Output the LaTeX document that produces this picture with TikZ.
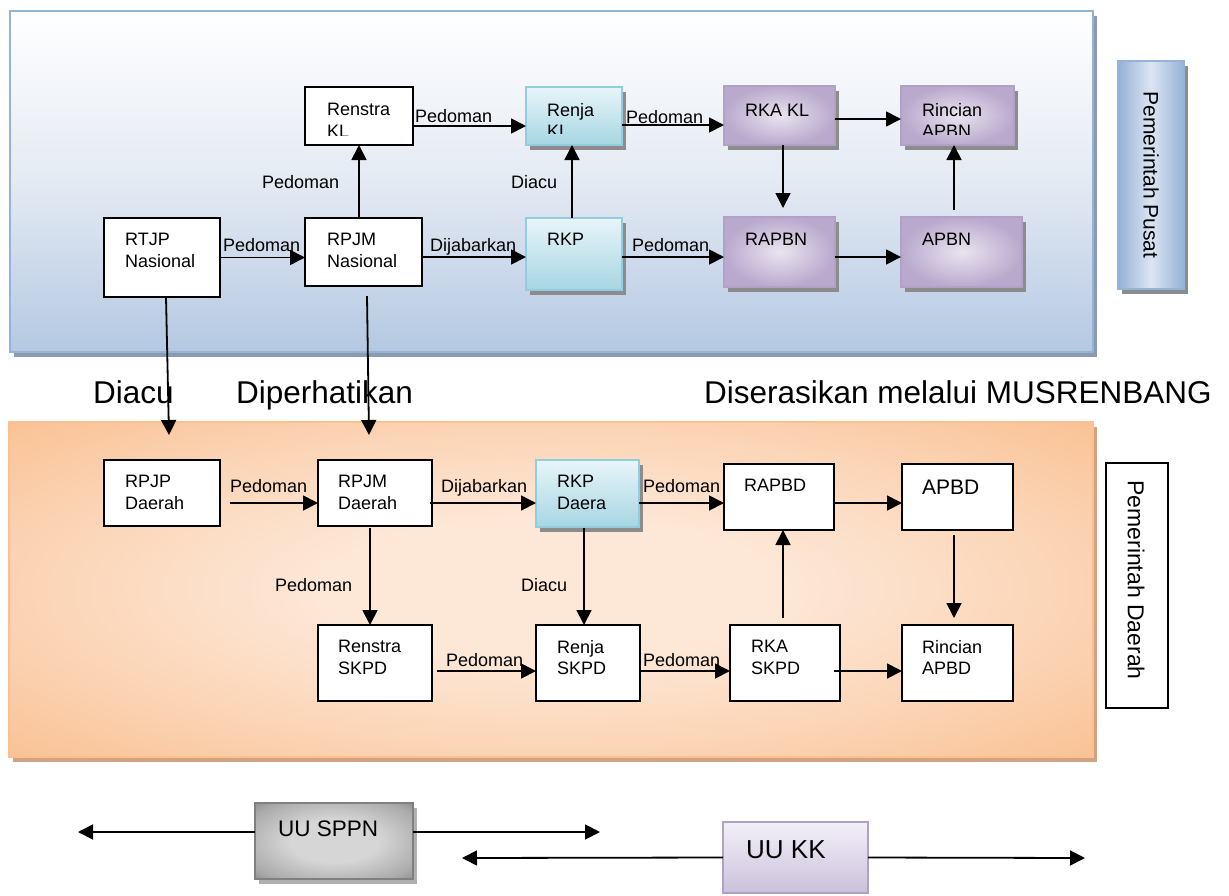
\documentclass[tikz,border=0pt]{standalone}
\usepackage{fontspec}
\setmainfont{Liberation Sans}
\usetikzlibrary{fit,shadows,arrows.meta}
\definecolor{panelblue}{HTML}{B4C8E2}
\definecolor{panelmid}{HTML}{E4EAF3}
\definecolor{paneledge}{HTML}{95B3D7}
\definecolor{panelshadow}{HTML}{8A9AB0}
\definecolor{orangeout}{HTML}{F8BA88}
\definecolor{orangemid}{HTML}{FBD3B3}
\definecolor{orangein}{HTML}{FDE8D8}
\definecolor{orangeedge}{HTML}{FAC090}
\definecolor{orangeshadow}{HTML}{D2A283}
\definecolor{cyantop}{HTML}{E8F5F9}
\definecolor{cyanbot}{HTML}{A6D6E3}
\definecolor{cyanedge}{HTML}{93CDDD}
\definecolor{purin}{HTML}{E9E4F0}
\definecolor{purout}{HTML}{B9A9CC}
\definecolor{puredge}{HTML}{B2A1C7}
\definecolor{grayin}{HTML}{D6D6D6}
\definecolor{graymid}{HTML}{ABABAB}
\definecolor{grayout}{HTML}{676767}
\definecolor{grayedge}{HTML}{808080}
\definecolor{kktop}{HTML}{F3F0F8}
\definecolor{kkbot}{HTML}{CBC0DB}
\definecolor{pusatmid}{HTML}{DCE6F2}
\definecolor{pusatside}{HTML}{94B1D6}
\definecolor{boxshadow}{HTML}{8C8C8C}
\pgfdeclareradialshading{orangeshade}{\pgfpoint{0bp}{0bp}}{color(0bp)=(orangein); color(10bp)=(orangein); color(25bp)=(orangemid); color(40bp)=(orangeout); color(75bp)=(orangeout)}
\pgfdeclareradialshading{grayshade}{\pgfpoint{0bp}{0bp}}{color(0bp)=(grayin); color(14bp)=(grayin); color(30bp)=(graymid); color(45bp)=(grayout); color(75bp)=(grayout)}
\newcommand\myfs[2]{\fontsize{#1pt}{#2pt}\selectfont}
\tikzset{
 bx/.style={inner sep=0pt, outer sep=0pt},
 shd/.style={drop shadow={shadow xshift=4pt, shadow yshift=-5pt, fill=#1, opacity=1}},
 toppanelbox/.style={bx, draw=paneledge, line width=2pt, top color=white, bottom color=panelblue, middle color=panelmid, shd=panelshadow},
 lowpanelbox/.style={bx, draw=orangeedge, line width=2pt, shading=orangeshade, shd=orangeshadow},
 plainbox/.style={bx, draw=black, line width=1.6pt, fill=white},
 cyanbox/.style={bx, draw=cyanedge, line width=1.5pt, top color=cyantop, bottom color=cyanbot, shd=boxshadow},
 purbox/.style={bx, draw=puredge, line width=1.5pt, inner color=purin, outer color=purout, shd=boxshadow},
 pusatbox/.style={bx, draw=paneledge, line width=1.5pt, left color=pusatside, right color=pusatside, middle color=pusatmid, shd=boxshadow},
 sppnbox/.style={bx, draw=grayedge, line width=1.5pt, shading=grayshade, shd=boxshadow!70},
 kkbox/.style={bx, draw=puredge, line width=1.5pt, top color=kktop, bottom color=kkbot},
 txt/.style={inner sep=0pt, anchor=north west, align=left, font=\myfs{18}{21.5}},
 big/.style={inner sep=0pt, anchor=base west, font=\myfs{31.5}{36}},
 rot/.style={inner sep=0pt, rotate=-90},
 arr/.style={line width=1.8pt, -{Triangle[length=15pt,width=15pt]}},
}
\begin{document}
\begin{tikzpicture}[x=1pt,y=-1pt]
\useasboundingbox (0,0) rectangle (1229,895);

% panels
\node[toppanelbox, fit={(10,11)(1093,352)}] (toppanel) {};
\node[lowpanelbox, fit={(9,422)(1093,757)}] (lowpanel) {};

% side boxes
\node[pusatbox, fit={(1118,61)(1184,289)}] (pusat) {};
\node[rot, font=\myfs{21}{24}] (pusat-t) at (pusat.center) {Pemerintah Pusat};
\node[plainbox, line width=1.5pt, fit={(1106,463)(1168,708)}] (daerah) {};
\node[rot, font=\myfs{23}{26}] (daerah-t) at (1136,580) {Pemerintah Daerah};

% top row 1
\node[plainbox, fit={(305,87)(413,145)}] (renstrakl) {};
\node[cyanbox, fit={(526,87)(622,145)}] (renjakl) {};
\node[purbox, fit={(724,86)(835,145)}] (rkakl) {};
\node[purbox, fit={(901,86)(1014,145)}] (rincianapbn) {};
\begin{scope}
 \clip (305,87) rectangle (413,135);
 \node[txt] (renstrakl-t) at (327,103) {Renstra\\KL};
\end{scope}
\begin{scope}
 \clip (526,87) rectangle (622,133);
 \node[txt] (renjakl-t) at (547,103) {Renja\\KL};
\end{scope}
\node[txt] (rkakl-t) at (745,104) {RKA KL};
\begin{scope}
 \clip (901,86) rectangle (1014,134);
 \node[txt] (rincianapbn-t) at (922,103) {Rincian\\APBN};
\end{scope}

% top row 2
\node[plainbox, fit={(104,218)(220,297)}] (rtjp) {};
\node[plainbox, fit={(305,218)(422,286)}] (rpjmnas) {};
\node[cyanbox, fit={(526,218)(622,290)}] (rkp) {};
\node[purbox, fit={(724,217)(835,287)}] (rapbn) {};
\node[purbox, fit={(901,217)(1022,287)}] (apbn) {};
\node[txt] (rtjp-t) at (125,233) {RTJP\\Nasional};
\node[txt] (rpjmnas-t) at (327,233) {RPJM\\Nasional};
\node[txt] (rkp-t) at (547,233) {RKP};
\node[txt] (rapbn-t) at (745,233) {RAPBN};
\node[txt] (apbn-t) at (922,233) {APBN};

% lower row 1
\node[plainbox, fit={(104,460)(220,526)}] (rpjpd) {};
\node[plainbox, fit={(318,460)(432,526)}] (rpjmd) {};
\node[cyanbox, fit={(536,460)(639,527)}] (rkpd) {};
\node[plainbox, fit={(724,464)(834,530)}] (rapbd) {};
\node[plainbox, fit={(902,464)(1013,530)}] (apbd) {};
\node[txt] (rpjpd-t) at (125,475) {RPJP\\Daerah};
\node[txt] (rpjmd-t) at (338,475) {RPJM\\Daerah};
\node[txt] (rkpd-t) at (557,475) {RKP\\Daera};
\node[txt] (rapbd-t) at (744,479) {RAPBD};
\node[txt, font=\myfs{21}{24}] (apbd-t) at (922,480) {APBD};

% lower row 2
\node[plainbox, fit={(318,625)(432,701)}] (renstraskpd) {};
\node[plainbox, fit={(536,625)(640,701)}] (renjaskpd) {};
\node[plainbox, fit={(730,625)(840,701)}] (rkaskpd) {};
\node[plainbox, fit={(902,625)(1013,701)}] (rincianapbd) {};
\node[txt] (renstraskpd-t) at (338,640) {Renstra\\SKPD};
\node[txt] (renjaskpd-t) at (557,640) {Renja\\SKPD};
\node[txt] (rkaskpd-t) at (751,640) {RKA\\SKPD};
\node[txt] (rincianapbd-t) at (922,640) {Rincian\\APBD};

% top arrows
\draw[arr] (rtjp.east) -- ([yshift=-5.5pt]rpjmnas.west);
\draw[arr] ([yshift=-5pt]rpjmnas.east) -- ([yshift=-3pt]rkp.west);
\draw[arr] ([yshift=-3pt]rkp.east) -- ([yshift=-5pt]rapbn.west);
\draw[arr] ([yshift=-5pt]rapbn.east) -- ([yshift=-5pt]apbn.west);
\draw[arr] ([xshift=-4.5pt]rpjmnas.north) -- (renstrakl.south);
\draw[arr] ([yshift=-10pt]renstrakl.east) -- ([yshift=-10pt]renjakl.west);
\draw[arr] ([xshift=-2pt]rkp.north) -- ([xshift=-2pt]renjakl.south);
\draw[arr] ([yshift=-9pt]renjakl.east) -- ([yshift=-9.5pt]rkakl.west);
\draw[arr] ([xshift=3.5pt]rkakl.south) -- ([xshift=3.5pt,yshift=9pt]rapbn.north);
\draw[arr] ([yshift=-3.5pt]rkakl.east) -- ([yshift=-3.5pt]rincianapbn.west);
\draw[arr] ([xshift=-7.5pt,yshift=7pt]apbn.north) -- ([xshift=-3.5pt]rincianapbn.south);

% top labels
\node[txt] (l1) at (223,238) {Pedoman};
\node[txt] (l2) at (430,238) {Dijabarkan};
\node[txt] (l3) at (632,238) {Pedoman};
\node[txt] (l4) at (262,175) {Pedoman};
\node[txt] (l5) at (415,109) {Pedoman};
\node[txt] (l6) at (511,175) {Diacu};
\node[txt] (l7) at (626,110) {Pedoman};

% long arrows between panels
\draw[arr] ([xshift=4pt]rtjp.south) -- ([xshift=7pt,yshift=25pt]rpjpd.north);
\draw[arr] ([xshift=3.5pt,yshift=-10pt]rpjmnas.south) -- ([xshift=-6pt,yshift=25pt]rpjmd.north);

% middle labels
\node[big] (diacu) at (93,403) {Diacu};
\node[big] (diperhatikan) at (236,403) {Diperhatikan};
\node[big] (diserasikan) at (704,403) {Diserasikan melalui MUSRENBANG};

% lower arrows
\draw[arr] ([xshift=10pt,yshift=-10pt]rpjpd.east) -- ([yshift=-10pt]rpjmd.west);
\draw[arr] ([xshift=-2pt,yshift=-10pt]rpjmd.east) -- ([yshift=-9.5pt]rkpd.west);
\draw[arr] ([yshift=-9.5pt]rkpd.east) -- ([yshift=-6pt]rapbd.west);
\draw[arr] ([yshift=-6pt]rapbd.east) -- ([yshift=-6pt]apbd.west);
\draw[arr] ([xshift=-5pt,yshift=-2pt]rpjmd.south) -- ([xshift=-5pt]renstraskpd.north);
\draw[arr] ([xshift=-3.5pt,yshift=-1pt]rkpd.south) -- ([xshift=-4pt]renjaskpd.north);
\draw[arr] ([xshift=5pt,yshift=-8pt]renstraskpd.east) -- ([yshift=-8pt]renjaskpd.west);
\draw[arr] ([yshift=-8pt]renjaskpd.east) -- ([yshift=-8pt]rkaskpd.west);
\draw[arr] ([xshift=-2pt,yshift=7pt]rkaskpd.north) -- ([xshift=4pt]rapbd.south);
\draw[arr] ([xshift=-3.5pt,yshift=-5pt]apbd.south) -- ([xshift=-3.5pt,yshift=7pt]rincianapbd.north);
\draw[arr] ([xshift=-6pt,yshift=-8pt]rkaskpd.east) -- ([yshift=-8pt]rincianapbd.west);

% lower labels
\node[txt] (m1) at (230,479) {Pedoman};
\node[txt] (m2) at (441,479) {Dijabarkan};
\node[txt] (m3) at (643,479) {Pedoman};
\node[txt] (m4) at (275,578) {Pedoman};
\node[txt] (m5) at (521,578) {Diacu};
\node[txt] (m6) at (446,653) {Pedoman};
\node[txt] (m7) at (643,653) {Pedoman};

% bottom laws
\node[sppnbox, fit={(255,803)(413,879)}] (uusppn) {};
\node[inner sep=0pt, anchor=base west, font=\myfs{22.5}{26}] (uusppn-t) at (278,836) {UU SPPN};
\node[kkbox, fit={(723,822)(868,893)}] (uukk) {};
\node[inner sep=0pt, anchor=base west, font=\myfs{26}{30}] (uukk-t) at (746,858) {UU KK};
\coordinate (sppnL) at (78,832);
\coordinate (sppnR) at (600,832);
\coordinate (kkL) at (462,858);
\coordinate (kkR) at (1085,858);
\draw[arr] ([yshift=9pt]uusppn.west) -- (sppnL);
\draw[arr] ([yshift=9pt]uusppn.east) -- (sppnR);
\draw[arr] (uukk.west) -- (kkL);
\draw[arr] (uukk.east) -- (kkR);
\end{tikzpicture}
\end{document}
